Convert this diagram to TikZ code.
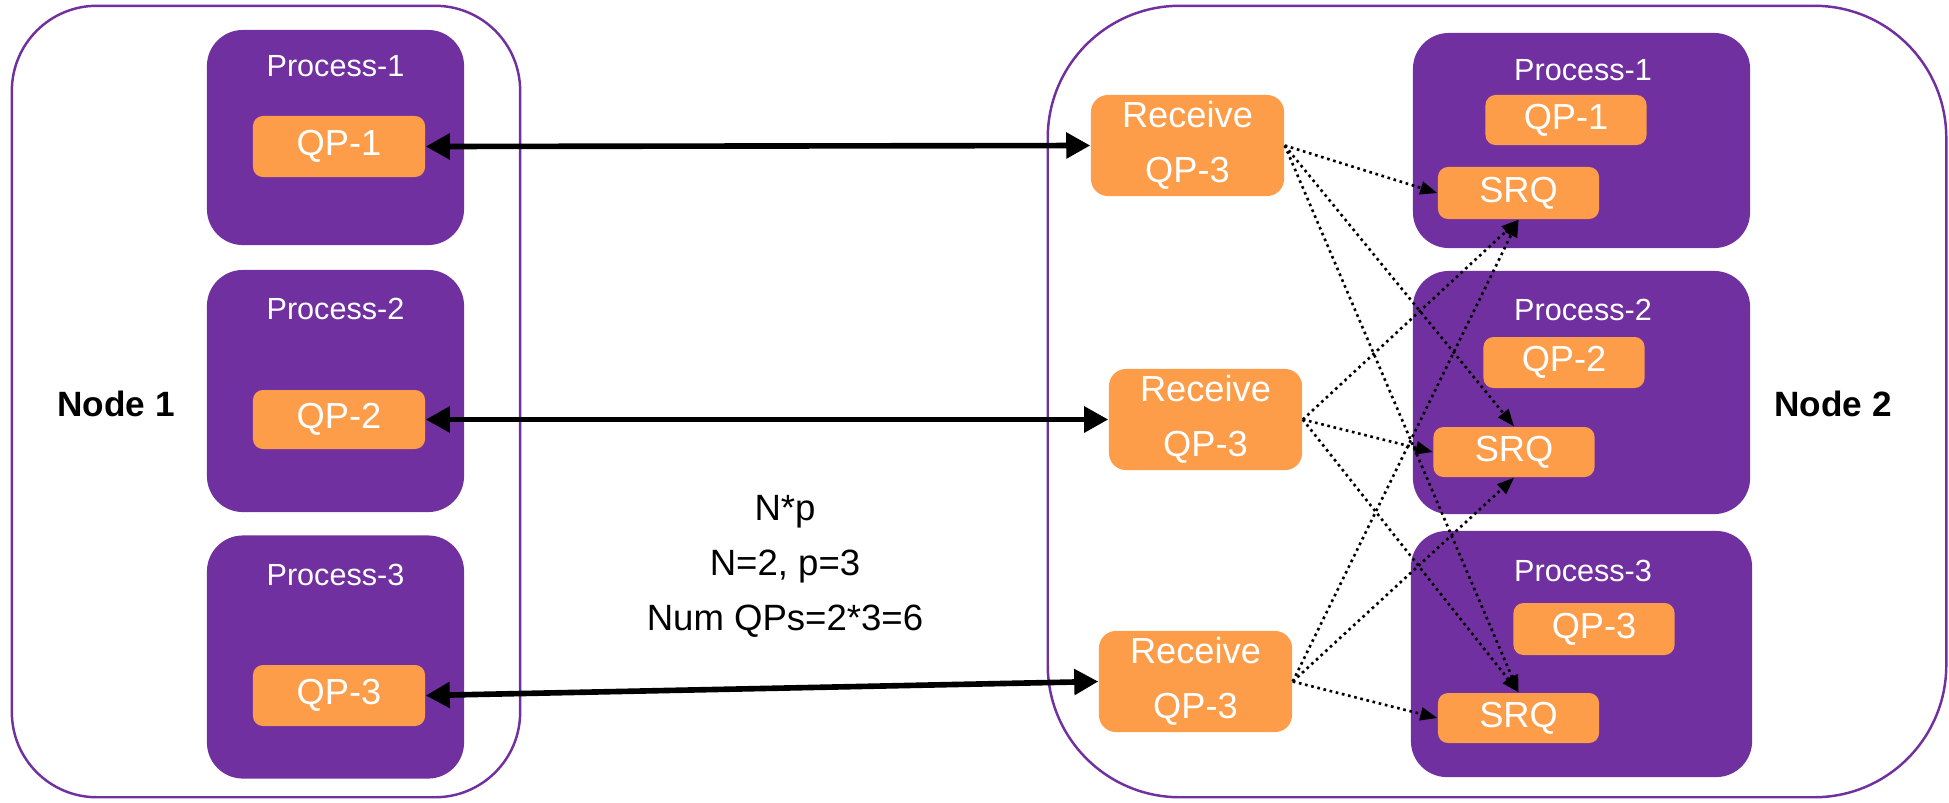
\documentclass[tikz,border=0pt]{standalone}
\usepackage{fontspec}
\setmainfont{Liberation Sans}
\usetikzlibrary{arrows.meta,positioning}
\definecolor{procpurple}{RGB}{112,48,160}
\definecolor{qporange}{RGB}{253,157,74}

\begin{document}
\begin{tikzpicture}[x=0.01cm, y=-0.01cm,
    outerbox/.style={draw=procpurple, line width=0.7pt, inner sep=0},
    procbox/.style={fill=procpurple, rounded corners=0.36cm, inner sep=0},
    qpbox/.style={fill=qporange, text=white, rounded corners=0.1cm, inner sep=0,
        align=center, font=\fontsize{10.3}{15.6}\selectfont},
    proclabel/.style={text=white, inner sep=0, font=\fontsize{8.7}{10}\selectfont},
    nodelabel/.style={font=\bfseries\fontsize{10}{12}\selectfont},
    link/.style={line width=1.6pt,
        {Triangle[length=0.24cm,width=0.25cm]}-{Triangle[length=0.24cm,width=0.25cm]}},
    fanout/.style={line width=0.75pt, dash pattern=on 0.75pt off 1.05pt,
        -{Triangle[length=0.17cm,width=0.13cm,sep=0pt]}}]

    \useasboundingbox (0,0) rectangle (1949,802);

    % Nodes
    \node[outerbox, rounded corners=0.85cm, minimum width=5.08cm, minimum height=7.91cm] (node1) at (266,401.5) {};
    \node[outerbox, rounded corners=1.32cm, minimum width=8.98cm, minimum height=7.91cm] (node2) at (1497,401.5) {};
    \node[nodelabel] (node1lbl) at (116,404) {Node 1};
    \node[nodelabel] (node2lbl) at (1833,404) {Node 2};

    % Processes on node 1
    \foreach \i/\y/\h/\ly/\qy/\qh in {1/137.5/2.15cm/66/146.5/0.61cm,
                                      2/391/2.42cm/309/419.5/0.59cm,
                                      3/657/2.43cm/575/695.5/0.61cm} {
        \node[procbox, minimum width=2.57cm, minimum height=\h] (lproc\i) at (335.5,\y) {};
        \node[proclabel] (lproc\i lbl) at (335.5,\ly) {Process-\i};
        \node[qpbox, minimum width=1.72cm, minimum height=\qh] (lqp\i) at (339,\qy) {QP-\i};
    }

    % Processes on node 2
    \foreach \i/\y/\w/\h/\ly/\qx/\qy/\qh/\sx/\sy/\sh in {
            1/140.5/3.37cm/2.15cm/70/1566/120/0.50cm/1518.5/193/0.52cm,
            2/392.5/3.37cm/2.43cm/310/1564/362.5/0.51cm/1514/452/0.50cm,
            3/654/3.41cm/2.46cm/571/1594/629/0.52cm/1518.5/718/0.50cm} {
        \node[procbox, minimum width=\w, minimum height=\h] (rproc\i) at (1581.5,\y) {};
        \node[proclabel] (rproc\i lbl) at (1583,\ly) {Process-\i};
        \node[qpbox, minimum width=1.61cm, minimum height=\qh] (rqp\i) at (\qx,\qy) {QP-\i};
        \node[qpbox, minimum width=1.61cm, minimum height=\sh] (srq\i) at (\sx,\sy) {SRQ};
    }

    % Receive queues
    \foreach \i/\x/\y in {1/1187.5/145.5, 2/1205.5/419.5, 3/1195.5/681.5} {
        \node[qpbox, rounded corners=0.17cm, minimum width=1.93cm, minimum height=1.01cm] (recv\i) at (\x,\y) {Receive\\QP-3};
    }

    % Count
    \node[align=center, font=\fontsize{10.4}{15.6}\selectfont] (count) at (785,566) {N*p\\N=2, p=3\\Num QPs=2*3=6};

    % Connections
    \foreach \i in {1,2,3} {
        \draw[link] (lqp\i.east) -- (recv\i.west);
    }
    \foreach \r/\s/\a in {1/1/west, 1/2/north, 1/3/north,
                          2/1/south, 2/2/west, 2/3/north,
                          3/1/south, 3/2/south, 3/3/west} {
        \draw[fanout] (recv\r.east) -- (srq\s.\a);
    }

\end{tikzpicture}
\end{document}
